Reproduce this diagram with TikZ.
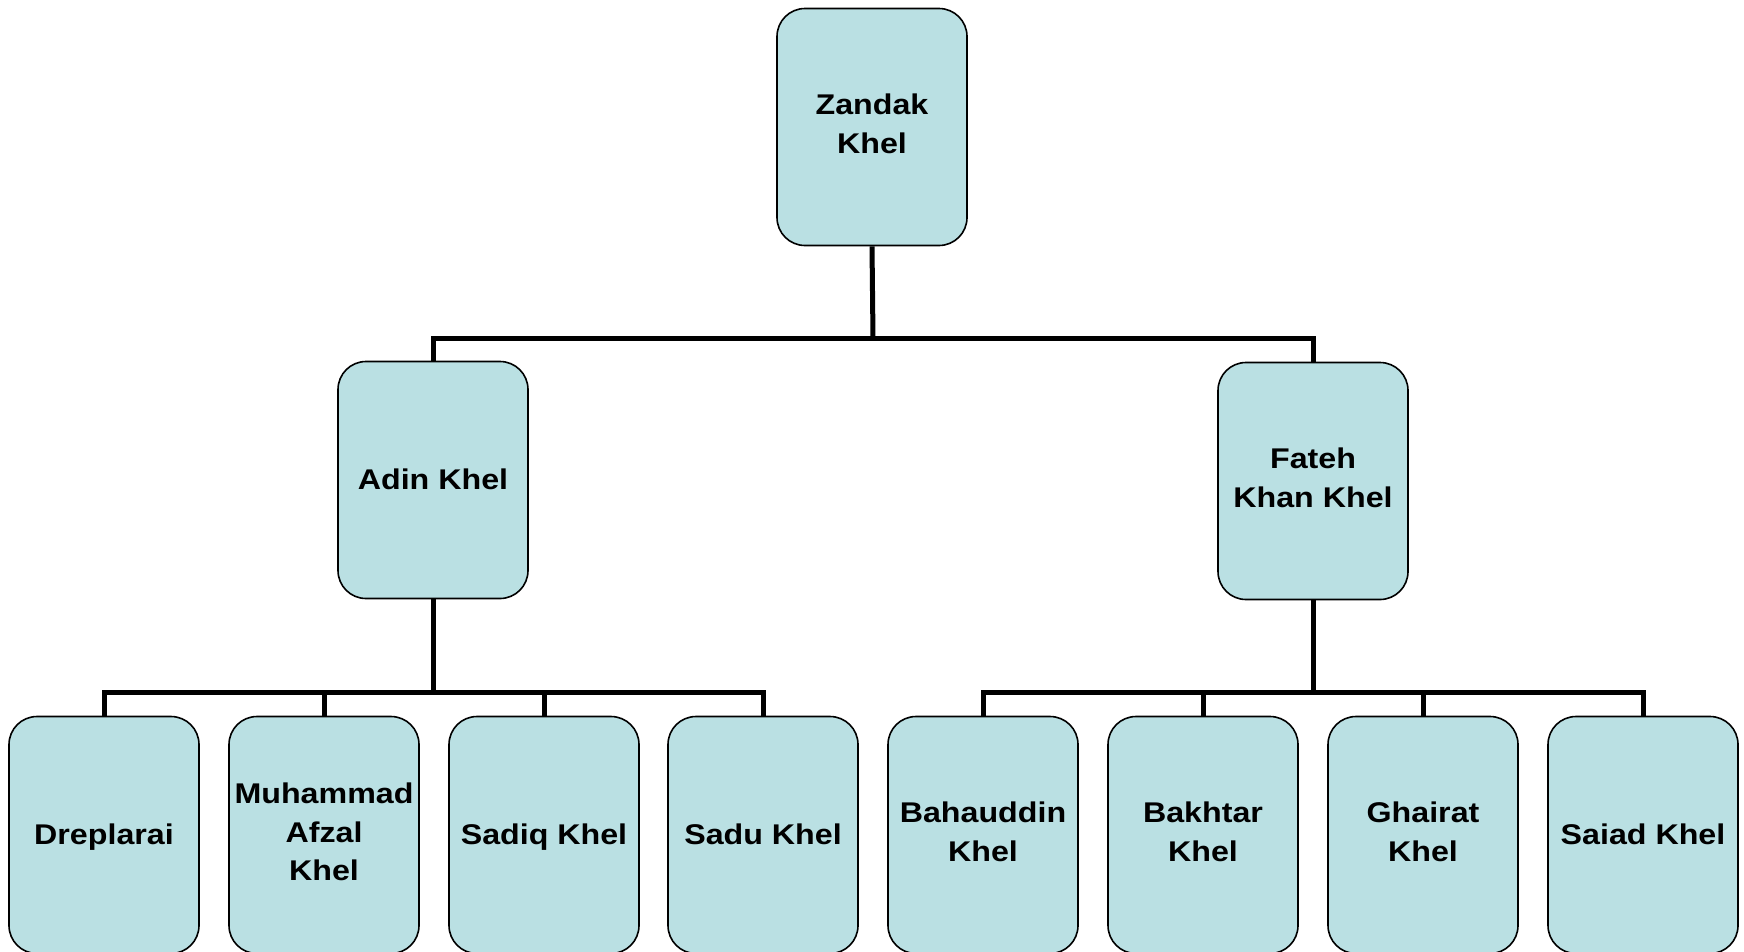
\documentclass[tikz,border=0pt]{standalone}
\usepackage{fontspec}
\setmainfont{Liberation Sans}[FakeStretch=1.13]
\definecolor{boxfill}{HTML}{BAE0E3}
\newcommand\clanstrut{\rule[-6.5pt]{0pt}{31pt}}
\begin{document}
\begin{tikzpicture}[x=1pt,y=-1pt,
  clan/.style={rectangle, rounded corners=28pt, draw=black, line width=1.6pt, fill=boxfill,
    minimum width=190pt, minimum height=237pt, inner sep=0pt, align=center,
    font=\fontsize{28.5}{38.5}\selectfont\bfseries,
    execute at begin node=\clanstrut, execute at end node=\clanstrut},
  link/.style={draw=black, line width=5pt, line join=miter}]
\useasboundingbox (0,0) rectangle (1744,951);
\node[clan] (z) at (872,127) {Zandak\\Khel};
\node[clan] (adin) at (433,480) {Adin Khel};
\node[clan] (fateh) at (1313,481) {Fateh\\Khan Khel};
\node[clan] (d1) at (104,835) {Dreplarai};
\node[clan] (d2) at (324,835) {Muhammad\\Afzal\\Khel};
\node[clan] (d3) at (544,835) {Sadiq Khel};
\node[clan] (d4) at (763,835) {Sadu Khel};
\node[clan] (e1) at (983,835) {Bahauddin\\Khel};
\node[clan] (e2) at (1203,835) {Bakhtar\\Khel};
\node[clan] (e3) at (1423,835) {Ghairat\\Khel};
\node[clan] (e4) at (1643,835) {Saiad Khel};
\coordinate (b1) at (873,338);
\coordinate (b2) at (433,692);
\coordinate (b3) at (1313,692);
\draw[link] (z.south) -- (b1);
\draw[link] (adin.north) -- (adin.north |- b1) -- (fateh.north |- b1) -- (fateh.north);
\draw[link] (adin.south) -- (b2);
\draw[link] (d1.north) -- (d1.north |- b2) -- (d4.north |- b2) -- (d4.north);
\draw[link] (d2.north) -- (d2.north |- b2);
\draw[link] (d3.north) -- (d3.north |- b2);
\draw[link] (fateh.south) -- (b3);
\draw[link] (e1.north) -- (e1.north |- b3) -- (e4.north |- b3) -- (e4.north);
\draw[link] (e2.north) -- (e2.north |- b3);
\draw[link] (e3.north) -- (e3.north |- b3);
\end{tikzpicture}
\end{document}
